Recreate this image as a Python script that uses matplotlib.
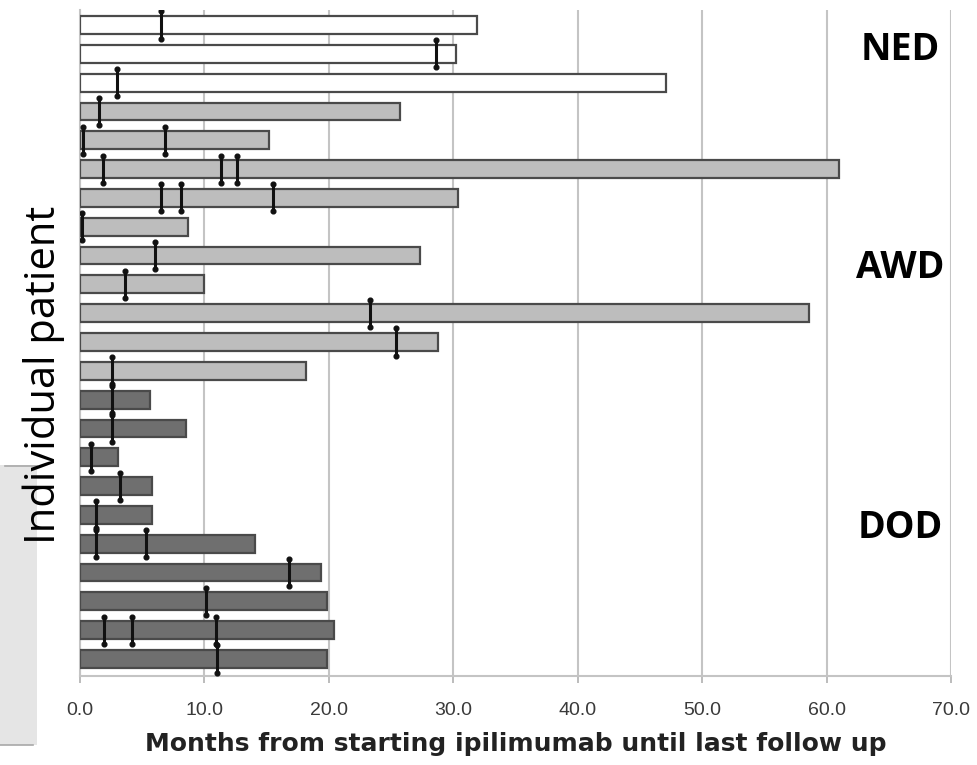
import numpy as np
import matplotlib
matplotlib.use("Agg")
import matplotlib.pyplot as plt
from matplotlib.patches import Rectangle
from matplotlib.lines import Line2D

# months of follow-up per patient, top to bottom
months = [31.9, 30.2, 47.1, 25.7, 15.2, 61.0, 30.4, 8.7, 27.3, 9.95, 58.6, 28.8,
          18.2, 5.65, 8.5, 3.05, 5.75, 5.75, 14.1, 19.35, 19.85, 20.4, 19.85]
# outcome group per patient
status = ["NED"] * 3 + ["AWD"] * 10 + ["DOD"] * 10
# dose time points (months) marked on each bar
doses = [[6.5], [28.6], [3.0], [1.5], [0.25, 6.8], [1.85, 11.3, 12.6],
         [6.5, 8.15, 15.5], [0.2], [6.05], [3.65], [23.3], [25.4],
         [2.55], [2.55], [2.6], [0.9], [3.25], [1.3], [1.3, 5.3],
         [16.8], [10.15], [1.9, 4.2, 10.9], [11.0]]

xticks = [0, 10, 20, 30, 40, 50, 60, 70]
group_labels = ["NED", "AWD", "DOD"]

fill = {"NED": "#ffffff", "AWD": "#bdbdbd", "DOD": "#6f6f6f"}

fig = plt.figure(figsize=(9.78, 7.65), dpi=100)
ax = fig.add_axes([80 / 978, 1 - 676 / 765, (951 - 80) / 978, (676 - 10) / 765])

ypos = np.arange(len(months))
ax.barh(ypos, months, height=0.62, color=[fill[s] for s in status],
        edgecolor="#4a4a4a", linewidth=1.6, zorder=3)

for y, pts in zip(ypos, doses):
    for d in pts:
        ax.plot([d, d], [y - 0.47, y + 0.47], color="#111111", lw=2.2,
                solid_capstyle="butt", zorder=4)
        ax.plot([d, d], [y - 0.47, y + 0.47], "o", color="#111111",
                markersize=3.4, zorder=5)

ax.set_xlim(0, 70)
ax.set_ylim(len(months) - 1 + 0.59, -0.52)
ax.set_xticks(xticks)
ax.set_xticklabels(["%.1f" % t for t in xticks])
ax.set_yticks([])
ax.grid(axis="x", color="#c4c4c4", linewidth=1.5, zorder=0)

for side in ["top", "right"]:
    ax.spines[side].set_visible(False)
for side in ["left", "bottom"]:
    ax.spines[side].set_color("#c4c4c4")
    ax.spines[side].set_linewidth(1.5)

ax.tick_params(axis="x", length=5, width=1.2, color="#b0b0b0", pad=14,
               labelsize=14, labelcolor="#3a3a3a")
ax.set_xlabel("Months from starting ipilimumab until last follow up",
              fontsize=18, fontweight="bold", color="#222222", labelpad=9,
              family="DejaVu Sans")
for lab in ax.get_xticklabels():
    lab.set_family("Liberation Sans")

# grey box on the far left
fig.add_artist(Rectangle((0, 1 - 745 / 765), 37 / 978, (745 - 465) / 765,
                         transform=fig.transFigure, facecolor="#e5e5e5",
                         edgecolor="none", zorder=0))
fig.add_artist(Line2D([5 / 978, 37 / 978], [1 - 466 / 765] * 2,
                      transform=fig.transFigure, color="#a8a8a8", lw=1.2))
fig.add_artist(Line2D([0, 33 / 978], [1 - 745 / 765] * 2,
                      transform=fig.transFigure, color="#a8a8a8", lw=1.2))

fig.text(44 / 978, 1 - 375 / 765, "Individual patient", rotation=90,
         ha="center", va="center", fontsize=30, family="Open Sans",
         color="black", zorder=10)

group_y = [50, 268, 528]
for lab, yp in zip(group_labels, group_y):
    fig.text(900 / 978, 1 - yp / 765, lab, ha="center", va="center",
             fontsize=27, fontweight="bold", family="Open Sans", color="black")

fig.savefig("out.png", dpi=100)
